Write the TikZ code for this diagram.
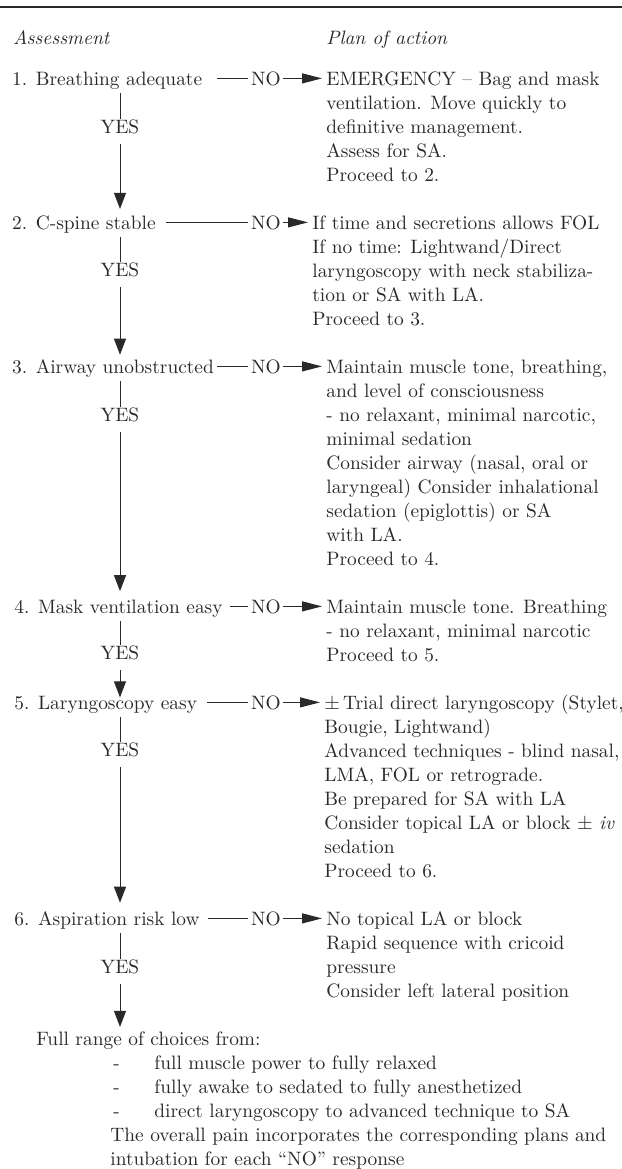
\documentclass[tikz,border=0pt]{standalone}
\usetikzlibrary{arrows.meta,positioning}

\definecolor{ink}{gray}{0.16}

\tikzset{
  txt/.style={anchor=base west, inner sep=0pt, text=ink},
  plan/.style={txt, align=left},
  yes/.style={inner sep=0pt, text=ink},
  no/.style={anchor=base, inner sep=0pt, text=ink},
  vline/.style={draw=ink, line width=0.5pt},
  down/.style={vline, -{Triangle[length=8pt,width=6pt]}},
  toplan/.style={vline, -{Triangle[length=10pt,width=5pt]}}
}

\begin{document}
\begin{tikzpicture}[x=0.5pt,y=-0.5pt,font=\fontsize{9.7}{12}\selectfont]
\useasboundingbox (0,0) rectangle (622,1169);

% rule and headings
\draw[ink, line width=0.65pt] (0,7) -- (622,7);
\node[txt] (hA) at (12.7,44) {\itshape Assessment};
\node[txt] (hP) at (326,44) {\itshape Plan of action};

% assessment steps
\node[txt] (r1) at (11.7,85) {1. Breathing adequate};
\node[txt] (r2) at (11.7,229) {2. C-spine stable};
\node[txt] (r3) at (11.7,373) {3. Airway unobstructed};
\node[txt] (r4) at (14,613) {4. Mask ventilation easy};
\node[txt] (r5) at (14,709) {5. Laryngoscopy easy};
\node[txt] (r6) at (14,925) {6. Aspiration risk low};

% YES / NO labels
\foreach \i/\y in {1/127,2/270,3/415,4/653,5/750,6/967}
  \node[yes] (yes\i) at (120,\y) {YES};
\coordinate (nocol) at (266,0);
\foreach \i in {1,...,6}
  \node[no] (no\i) at (nocol |- r\i.base) {NO};

% plans of action (placed by the baseline of their last line)
\node[plan] (p1) at (326,181) {EMERGENCY -- Bag and mask\\
  ventilation. Move quickly to\\
  definitive management.\\
  Assess for SA.\\
  Proceed to 2.};
\node[plan] (p2) at (312,325) {If time and secretions allows FOL\\
  If no time: Lightwand/Direct\\
  laryngoscopy with neck stabiliza-\\
  tion or SA with LA.\\
  Proceed to 3.};
\node[plan] (p3) at (326,565) {Maintain muscle tone, breathing,\\
  and level of consciousness\\
  - no relaxant, minimal narcotic,\\
  minimal sedation\\
  Consider airway (nasal, oral or\\
  laryngeal) Consider inhalational\\
  sedation (epiglottis) or SA\\
  with LA.\\
  Proceed to 4.};
\node[plan] (p4) at (326,661) {Maintain muscle tone. Breathing\\
  - no relaxant, minimal narcotic\\
  Proceed to 5.};
\node[plan] (p5) at (324,877) {$\pm$\,Trial direct laryngoscopy (Stylet,\\
  Bougie, Lightwand)\\
  Advanced techniques - blind nasal,\\
  LMA, FOL or retrograde.\\
  Be prepared for SA with LA\\
  Consider topical LA or block $\pm$ \textit{iv}\\
  sedation\\
  Proceed to 6.};
\node[plan] (p6) at (326,997) {No topical LA or block\\
  Rapid sequence with cricoid\\
  pressure\\
  Consider left lateral position};

% final outcome
\node[txt] (full) at (36,1045) {Full range of choices from:};
\foreach \t [count=\k] in {full muscle power to fully relaxed,
    fully awake to sedated to fully anesthetized,
    direct laryngoscopy to advanced technique to SA} {
  \node[txt] (d\k) at (113,1045+24*\k) {-};
  \node[txt] (c\k) at (154,1045+24*\k) {\t};
}
\node[plan] (pain) at (110,1165) {The overall pain incorporates the corresponding plans and\\
  intubation for each ``NO'' response};

% NO branches
\foreach \i/\g in {1/14,2/10,3/3,4/7,5/10,6/8} {
  \draw[vline, shorten <=\g*0.5pt, shorten >=1.5pt] (r\i.east |- no\i) -- (no\i.west);
  \draw[toplan, shorten <=1pt, shorten >=2pt] (no\i.east) -- (p\i.west |- no\i);
}

% YES branches
\foreach \i/\j/\s in {1/r2/3,2/r3/2,3/r4/4,4/r5/-1,5/r6/4,6/full/2} {
  \draw[vline, shorten <=2pt, shorten >=0.5pt] (yes\i |- r\i.south) -- (yes\i.north);
  \draw[down, shorten <=5pt, shorten >=\s pt] (yes\i.south) -- (yes\i |- \j.north);
}

\end{tikzpicture}
\end{document}
